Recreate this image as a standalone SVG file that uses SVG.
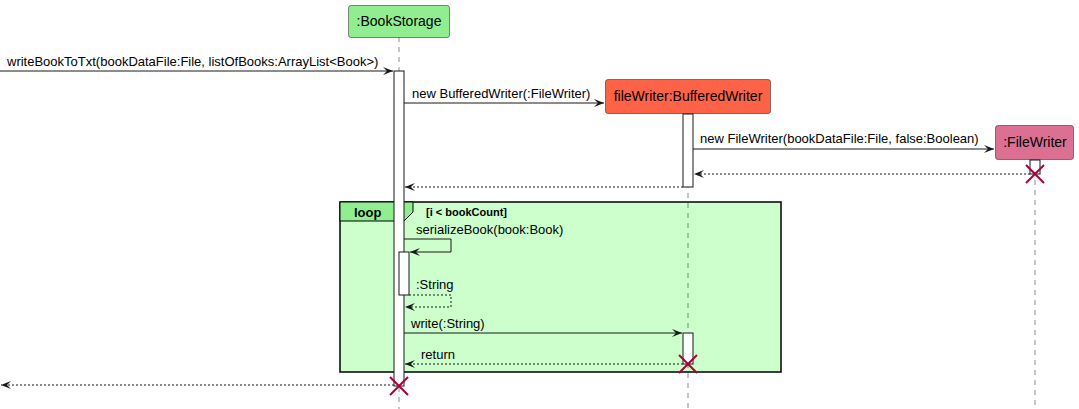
<svg xmlns="http://www.w3.org/2000/svg" width="1079" height="409" viewBox="0 0 1079 409">
<defs>
<style>
text{font-family:"Liberation Sans",Arial,sans-serif;fill:#000}
.msg{font-size:13px}
.part{font-size:14px;text-anchor:middle}
.box{stroke:#181818;stroke-width:0.5}
.life{stroke:#181818;stroke-width:0.5;stroke-dasharray:5,5;fill:none}
.act{fill:#fff;stroke:#181818;stroke-width:1}
.sync{stroke:#181818;stroke-width:1;fill:none}
.ret{stroke:#181818;stroke-width:1;fill:none;stroke-dasharray:2,2}
.x{stroke:#A80036;stroke-width:2}
</style>
<marker id="ah" viewBox="0 0 10 8" refX="10" refY="4" markerWidth="10" markerHeight="8" markerUnits="userSpaceOnUse" orient="auto">
<path d="M0,0 L10,4 L0,8 L4,4 Z" fill="#181818"/>
</marker>
</defs>
<g id="loop">
<rect x="340" y="202" width="441" height="170" fill="#CCFFCC" stroke="#000" stroke-width="1.5"/>
<polygon points="340,202 413,202 413,212 404,221 340,221" fill="#90EE90" stroke="#000" stroke-width="1"/>
<text x="354" y="217" style="font-size:13px;font-weight:bold">loop</text>
<text x="426" y="216" style="font-size:11px;font-weight:bold">[i &lt; bookCount]</text>
</g>
<g id="lifelines">
<line class="life" x1="399" y1="37" x2="399" y2="409"/>
<line class="life" x1="688" y1="113" x2="688" y2="409"/>
<line class="life" x1="1035" y1="160" x2="1035" y2="409"/>
</g>
<g id="BookStorage">
<rect class="box" x="348.5" y="5.5" width="101" height="32" rx="2.5" fill="#90EE90"/>
<text class="part" x="399" y="26">:BookStorage</text>
<rect class="act" x="394" y="71" width="10" height="315"/>
<rect class="act" x="399" y="252" width="10" height="43"/>
<line class="x" x1="390" y1="377" x2="408" y2="395"/>
<line class="x" x1="408" y1="377" x2="390" y2="395"/>
</g>
<g id="BufferedWriter">
<rect class="box" x="605.5" y="79.5" width="165" height="34" rx="2.5" fill="#FF6347"/>
<text class="part" x="688" y="101">fileWriter:BufferedWriter</text>
<rect class="act" x="683" y="114" width="10" height="73"/>
<rect class="act" x="683" y="333" width="10" height="31"/>
<line class="x" x1="679" y1="355" x2="697" y2="373"/>
<line class="x" x1="697" y1="355" x2="679" y2="373"/>
</g>
<g id="FileWriter">
<rect class="box" x="995.5" y="125.5" width="78" height="34" rx="2.5" fill="#DB7093"/>
<text class="part" x="1035" y="147">:FileWriter</text>
<rect class="act" x="1030" y="160" width="10" height="14"/>
<line class="x" x1="1026" y1="165" x2="1044" y2="183"/>
<line class="x" x1="1044" y1="165" x2="1026" y2="183"/>
</g>
<g id="connectors">
<line class="sync" x1="0" y1="71" x2="393" y2="71" marker-end="url(#ah)"/>
<text class="msg" x="7" y="66">writeBookToTxt(bookDataFile:File, listOfBooks:ArrayList&lt;Book&gt;)</text>
<line class="sync" x1="404" y1="103" x2="604" y2="103" marker-end="url(#ah)"/>
<text class="msg" x="412" y="98">new BufferedWriter(:FileWriter)</text>
<line class="sync" x1="693" y1="149" x2="994" y2="149" marker-end="url(#ah)"/>
<text class="msg" x="700" y="143">new FileWriter(bookDataFile:File, false:Boolean)</text>
<line class="ret" x1="1030" y1="174" x2="694" y2="174" marker-end="url(#ah)"/>
<line class="ret" x1="683" y1="187" x2="405" y2="187" marker-end="url(#ah)"/>
<path class="sync" d="M404,239 H451 V252 H410" marker-end="url(#ah)"/>
<text class="msg" x="416" y="234">serializeBook(book:Book)</text>
<path class="ret" d="M409,295 H451 V307 H405" marker-end="url(#ah)"/>
<text class="msg" x="416" y="289">:String</text>
<line class="sync" x1="404" y1="333" x2="682" y2="333" marker-end="url(#ah)"/>
<text class="msg" x="411" y="328">write(:String)</text>
<line class="ret" x1="683" y1="364" x2="405" y2="364" marker-end="url(#ah)"/>
<text class="msg" x="421" y="359">return</text>
<line class="ret" x1="394" y1="385" x2="1" y2="385" marker-end="url(#ah)"/>
</g>
</svg>
